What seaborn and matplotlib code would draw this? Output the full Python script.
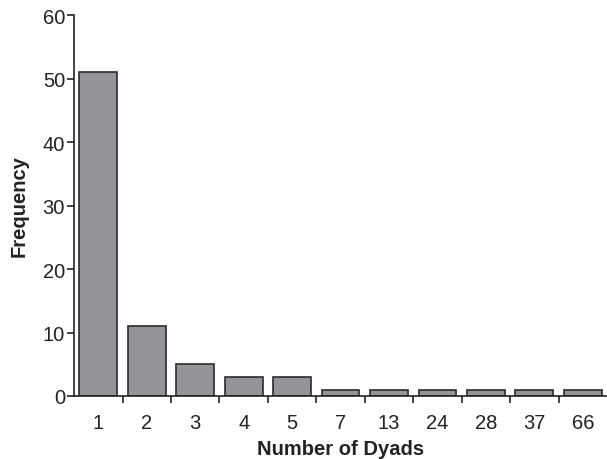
import matplotlib
matplotlib.use("Agg")
import matplotlib.pyplot as plt
import seaborn as sns
import pandas as pd
import numpy as np
from matplotlib.ticker import FixedLocator

categories = ["1", "2", "3", "4", "5", "7", "13", "24", "28", "37", "66"]
frequency = [51, 11, 5, 3, 3, 1, 1, 1, 1, 1, 1]

sns.set_style("ticks")
plt.rcParams['font.family'] = ['Liberation Sans', 'DejaVu Sans']

df = pd.DataFrame({"dyads": categories, "freq": frequency})
fig = plt.figure(figsize=(6.07, 4.60), dpi=100)
ax = fig.add_axes([0.122, 0.137, 0.878, 0.828])
sns.barplot(data=df, x="dyads", y="freq", order=categories, color="#939598",
            edgecolor="#2b2b2b", linewidth=1.2, width=0.78, saturation=1, ax=ax)
ax.set_xlim(-0.5, len(categories) - 0.5)
ax.set_ylim(0, 60)
ax.set_yticks(range(0, 61, 10))
ax.xaxis.set_minor_locator(FixedLocator(np.arange(0.5, len(categories) - 1, 1)))
ax.tick_params(axis="x", which="major", length=0, pad=12.5, labelsize=14.5, colors="#222222")
ax.tick_params(axis="x", which="minor", length=5, width=1.2, color="#222222")
ax.tick_params(axis="y", length=5, width=1.2, pad=1.5, labelsize=14.5, colors="#222222")
for s in ["top", "right"]:
    ax.spines[s].set_visible(False)
for s in ["left", "bottom"]:
    ax.spines[s].set_linewidth(1.2)
    ax.spines[s].set_color("#222222")
ax.set_xlabel("Number of Dyads", fontsize=14.5, fontweight="bold", labelpad=4.5, color="#222222")
ax.set_ylabel("Frequency", fontsize=14.5, fontweight="bold", labelpad=10, color="#222222")
fig.savefig("out.png", dpi=100)
